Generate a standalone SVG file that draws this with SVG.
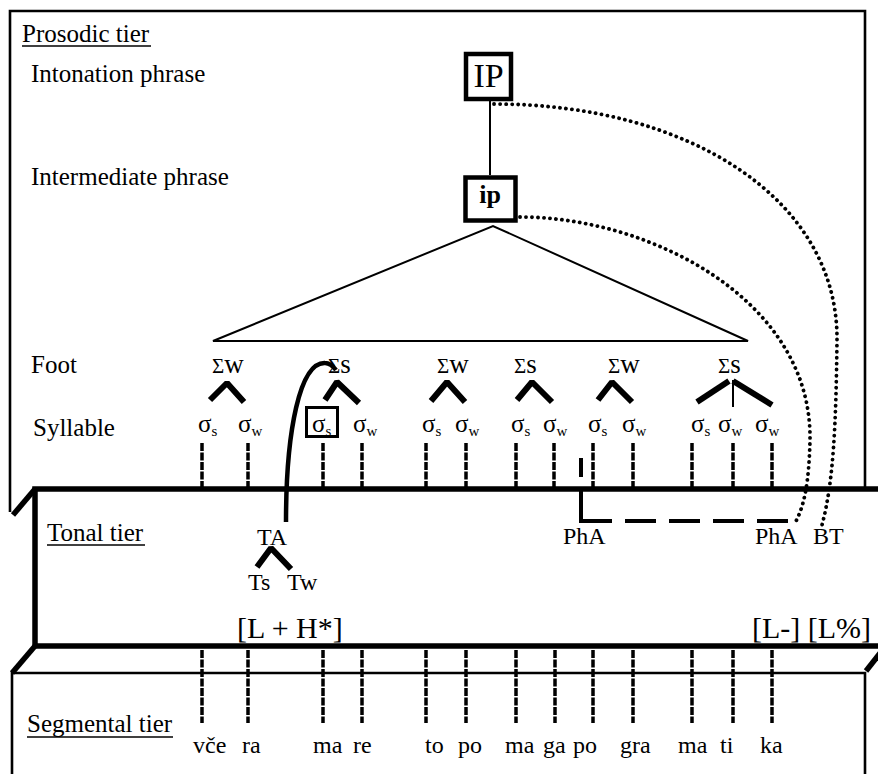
<svg xmlns="http://www.w3.org/2000/svg" xmlns:xlink="http://www.w3.org/1999/xlink" width="878" height="774" viewBox="0 0 878 774">
<style>
.t{font-family:"Liberation Serif","Times New Roman",serif;fill:#000}
.l25{font-size:25px}
.l24{font-size:24px}
.l30{font-size:30px}
.sub{font-size:15px}
.sig{font-size:21px}
.sl{font-size:27px}
.thin{stroke:#000;stroke-width:2;fill:none}
.frame{stroke:#000;stroke-width:2.6;fill:none}
.thick{stroke:#000;stroke-width:5.5;fill:none}
.caret{stroke:#000;stroke-width:6;fill:none;stroke-linejoin:bevel}
.dot{stroke:#000;stroke-width:3.8;stroke-linecap:round;stroke-dasharray:0.1 5.9;fill:none}
.wavy{stroke:#000;stroke-width:3.5;stroke-dasharray:8 1.5;fill:none}
.box{stroke:#000;stroke-width:4.5;fill:#fff}
</style>
<defs>
<line id="tu" x1="0" y1="443" x2="0" y2="487" class="wavy"/>
<line id="tl" x1="0" y1="650" x2="0" y2="723" class="wavy"/>
</defs>

<g id="prosodic-tier">
<path class="frame" d="M10 512 L10 11 L865 11 L865 487"/>
<text class="t l25" x="22" y="42">Prosodic tier</text>
<line x1="22" y1="46" x2="151" y2="46" stroke="#000" stroke-width="1.6"/>
<text class="t l25" x="31" y="82">Intonation phrase</text>
<text class="t l25" x="31" y="185">Intermediate phrase</text>
<text class="t l25" x="31" y="373">Foot</text>
<text class="t l25" x="33" y="436">Syllable</text>
</g>
<g id="tonal-tier">
<path class="thick" d="M880 489 L35 489 L35 646 L880 646"/>
<line class="thick" x1="13" y1="515" x2="35" y2="489"/>
<text class="t l25" x="47" y="541">Tonal tier</text>
<line x1="47" y1="545" x2="145" y2="545" stroke="#000" stroke-width="1.6"/>
</g>
<g id="segmental-tier">
<path class="frame" d="M12 776 L12 673 L865 673 L865 776"/>
<line class="thick" x1="12" y1="673" x2="35" y2="646"/>
<line class="thick" x1="866" y1="671" x2="888" y2="643"/>
<text class="t l25" x="27" y="732">Segmental tier</text>
<line x1="27" y1="737" x2="173" y2="737" stroke="#000" stroke-width="1.6"/>
</g>

<g id="connectors">
<line class="thin" x1="490" y1="101" x2="490" y2="175"/>
<path class="thin" d="M213 341 L493 226 L748 341 Z"/>
<path class="dot" d="M494 104 C690 104 838 200 837 340 C836 420 834 480 822 525"/>
<path class="dot" d="M520 217 C650 217 812 300 810 440 C809 480 805 505 795 523"/>
<polyline class="caret" points="210,400 227,383 244,402"/>
<polyline class="caret" points="325,400 337,382 359,403"/>
<polyline class="caret" points="431,401 447,382 465,402"/>
<polyline class="caret" points="517,400 532,382 552,402"/>
<polyline class="caret" points="598,400 612,382 632,402"/>
<line class="caret" x1="697" y1="402" x2="729" y2="381"/>
<line class="caret" x1="733" y1="381" x2="772" y2="405"/>
<line class="thin" x1="733" y1="380" x2="733" y2="407"/>
<path stroke="#000" stroke-width="4.5" fill="none" d="M286 522 C286 430 300 362 325 363 C330 363 333 366 336 370"/>
<polyline class="caret" points="257,567 271,548 291,569"/>
<line stroke="#000" stroke-width="4" x1="581" y1="458" x2="581" y2="477"/>
<path stroke="#000" stroke-width="4" fill="none" d="M581 487 L581 521 L612 521"/>
<line stroke="#000" stroke-width="4" stroke-dasharray="31 13" x1="625" y1="521" x2="789" y2="521"/>
<use xlink:href="#tu" x="202"/><use xlink:href="#tu" x="248"/><use xlink:href="#tu" x="323"/><use xlink:href="#tu" x="362"/><use xlink:href="#tu" x="426"/><use xlink:href="#tu" x="466"/><use xlink:href="#tu" x="516"/><use xlink:href="#tu" x="554"/><use xlink:href="#tu" x="593"/><use xlink:href="#tu" x="633"/><use xlink:href="#tu" x="692"/><use xlink:href="#tu" x="733"/><use xlink:href="#tu" x="772"/>
<use xlink:href="#tl" x="202"/><use xlink:href="#tl" x="248"/><use xlink:href="#tl" x="323"/><use xlink:href="#tl" x="362"/><use xlink:href="#tl" x="426"/><use xlink:href="#tl" x="466"/><use xlink:href="#tl" x="516"/><use xlink:href="#tl" x="555"/><use xlink:href="#tl" x="593"/><use xlink:href="#tl" x="633"/><use xlink:href="#tl" x="692"/><use xlink:href="#tl" x="733"/><use xlink:href="#tl" x="772"/>
</g>

<g id="node-IP">
<rect class="box" x="466" y="54" width="45" height="45"/>
<text class="t" font-size="34" x="488.5" y="87" text-anchor="middle">IP</text>
</g>
<g id="node-ip">
<rect class="box" x="465.5" y="177.5" width="50" height="43"/>
<text class="t" font-size="26" font-weight="bold" x="490" y="203" text-anchor="middle">ip</text>
</g>

<g id="feet">
<text class="t" x="212" y="373"><tspan class="sig">Σ</tspan><tspan class="sl">w</tspan></text>
<text class="t" x="328" y="373"><tspan class="sig">Σ</tspan><tspan class="sl">s</tspan></text>
<text class="t" x="437" y="373"><tspan class="sig">Σ</tspan><tspan class="sl">w</tspan></text>
<text class="t" x="514" y="373"><tspan class="sig">Σ</tspan><tspan class="sl">s</tspan></text>
<text class="t" x="608" y="373"><tspan class="sig">Σ</tspan><tspan class="sl">w</tspan></text>
<text class="t" x="718" y="373"><tspan class="sig">Σ</tspan><tspan class="sl">s</tspan></text>
</g>

<g id="syllables">
<rect x="306.5" y="407.5" width="31" height="29" fill="none" stroke="#000" stroke-width="3"/>
<text class="t l25" x="198" y="432">σ<tspan class="sub" dy="4">s</tspan></text>
<text class="t l25" x="238" y="432">σ<tspan class="sub" dy="4">w</tspan></text>
<text class="t l25" x="312" y="432">σ<tspan class="sub" dy="4">s</tspan></text>
<text class="t l25" x="353" y="432">σ<tspan class="sub" dy="4">w</tspan></text>
<text class="t l25" x="422" y="432">σ<tspan class="sub" dy="4">s</tspan></text>
<text class="t l25" x="455" y="432">σ<tspan class="sub" dy="4">w</tspan></text>
<text class="t l25" x="511" y="432">σ<tspan class="sub" dy="4">s</tspan></text>
<text class="t l25" x="543" y="432">σ<tspan class="sub" dy="4">w</tspan></text>
<text class="t l25" x="588" y="432">σ<tspan class="sub" dy="4">s</tspan></text>
<text class="t l25" x="622" y="432">σ<tspan class="sub" dy="4">w</tspan></text>
<text class="t l25" x="691" y="432">σ<tspan class="sub" dy="4">s</tspan></text>
<text class="t l25" x="718" y="432">σ<tspan class="sub" dy="4">w</tspan></text>
<text class="t l25" x="755" y="432">σ<tspan class="sub" dy="4">w</tspan></text>
</g>

<g id="tonal-nodes">
<text class="t l24" x="257" y="545">TA</text>
<text class="t l24" x="248" y="590">Ts</text>
<text class="t l24" x="287" y="590">Tw</text>
<text class="t l30" x="237" y="638">[L + H*]</text>
<text class="t l24" x="563" y="544">PhA</text>
<text class="t l24" x="755" y="544">PhA</text>
<text class="t l24" x="813" y="544">BT</text>
<text class="t l30" x="752" y="638">[L-] [L%]</text>
</g>

<g id="segments">
<text class="t l24" x="193" y="753">vče</text>
<text class="t l24" x="242" y="753">ra</text>
<text class="t l24" x="313" y="753">ma</text>
<text class="t l24" x="353" y="753">re</text>
<text class="t l24" x="425" y="753">to</text>
<text class="t l24" x="458" y="753">po</text>
<text class="t l24" x="505" y="753">ma</text>
<text class="t l24" x="543" y="753">ga</text>
<text class="t l24" x="573" y="753">po</text>
<text class="t l24" x="620" y="753">gra</text>
<text class="t l24" x="678" y="753">ma</text>
<text class="t l24" x="720" y="753">ti</text>
<text class="t l24" x="760" y="753">ka</text>
</g>
</svg>
